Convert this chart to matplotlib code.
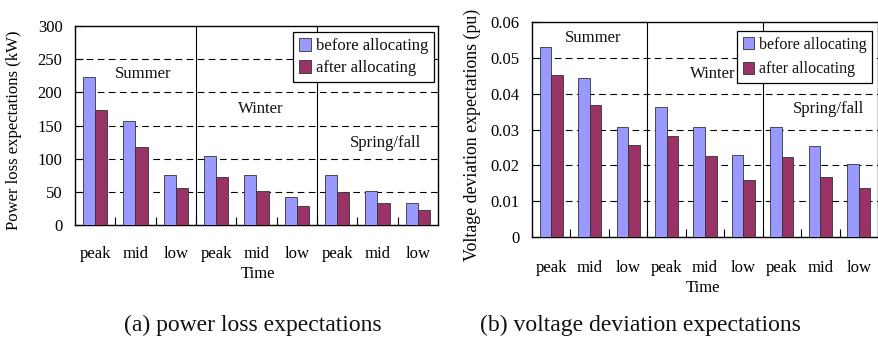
import numpy as np
import matplotlib.pyplot as plt

plt.rcParams["font.family"] = ["Liberation Serif", "DejaVu Serif"]
plt.rcParams["text.color"] = "#111111"

# categories: three load levels within each season
periods = ["peak", "mid", "low"] * 3
seasons = ["Summer", "Winter", "Spring/fall"]

# power loss expectations (kW)
loss_before = [223, 157, 76, 104, 76, 42, 76, 51, 33]
loss_after = [173, 118, 56, 73, 51, 29, 50, 33, 22]

# voltage deviation expectations (pu)
volt_before = [0.0529, 0.0445, 0.0307, 0.0362, 0.0307, 0.0228, 0.0307, 0.0254, 0.0203]
volt_after = [0.0452, 0.0368, 0.0256, 0.0281, 0.0225, 0.0158, 0.0222, 0.0168, 0.0137]

c_before = "#9999FF"
c_after = "#993366"


def draw_panel(ax, before, after, ymax, ystep, ylabel, ylab_size, season_pos,
               legend_anchor, leg_size, leg_space, tick_pad, ylab_xy, time_xy):
    x = np.arange(len(periods))
    w = 0.3
    ax.bar(x - w / 2, before, w, color=c_before, edgecolor="#333333",
           linewidth=0.6, label="before allocating", zorder=3)
    ax.bar(x + w / 2, after, w, color=c_after, edgecolor="#333333",
           linewidth=0.6, label="after allocating", zorder=3)

    ax.set_xlim(-0.5, len(periods) - 0.5)
    ax.set_ylim(0, ymax)
    yt = np.arange(0, ymax + ystep / 2, ystep)
    ax.set_yticks(yt)
    ax.set_yticklabels(["0"] + [f"{v:g}" for v in yt[1:]])
    for v in yt[1:-1]:
        ax.axhline(v, color="black", lw=0.8, ls=(0, (6, 4)), zorder=1)
    for b in (2.5, 5.5):
        ax.axvline(b, color="black", lw=0.8, zorder=2)

    ax.set_xticks(x)
    ax.set_xticklabels(periods)
    ax.set_xticks(np.arange(0.5, len(periods) - 1, 1), minor=True)
    ax.tick_params(axis="x", which="major", length=0, pad=tick_pad, labelsize=12)
    ax.tick_params(axis="x", which="minor", direction="in", length=6, width=0.8)
    ax.tick_params(axis="y", direction="in", length=6, width=0.8, pad=9, labelsize=12)
    for s in ax.spines.values():
        s.set_linewidth(1.0)

    ax.set_ylabel(ylabel, fontsize=ylab_size)
    ax.yaxis.set_label_coords(*ylab_xy)
    ax.set_xlabel("Time", fontsize=12)
    ax.xaxis.set_label_coords(*time_xy)

    for name, (sx, sy) in zip(seasons, season_pos):
        ax.text(sx, sy, name, ha="center", va="center", fontsize=12)

    leg = ax.legend(loc="upper right", bbox_to_anchor=legend_anchor, fontsize=leg_size,
                    fancybox=False, framealpha=1, edgecolor="black",
                    handlelength=0.7, handleheight=0.8, handletextpad=0.3,
                    borderpad=0.35, labelspacing=leg_space, borderaxespad=0)
    leg.get_frame().set_linewidth(0.9)


fig = plt.figure(figsize=(8.79, 3.4), dpi=100)
W, H = 879, 340

ax1 = fig.add_axes([75 / W, (H - 225) / H, 363 / W, 199 / H])
draw_panel(ax1, loss_before, loss_after, 300, 50,
           "Power loss expectations (kW)", 12,
           [(1.2, 228), (4.1, 175), (7.2, 123)],
           (0.989, 0.97), 12, 0.35, 15, (-0.146, 0.477), (0.504, -0.206))

ax2 = fig.add_axes([532 / W, (H - 237) / H, 346 / W, 215 / H])
draw_panel(ax2, volt_before, volt_after, 0.06, 0.01,
           "Voltage deviation expectations (pu)", 12.8,
           [(1.1, 0.0554), (4.2, 0.0455), (7.2, 0.0358)],
           (0.983, 0.958), 11.5, 0.55, 16.5, (-0.147, 0.474), (0.494, -0.2))

fig.text(253 / W, 1 - 325 / H, "(a) power loss expectations",
         ha="center", va="center", fontsize=17)
fig.text(640 / W, 1 - 325 / H, "(b) voltage deviation expectations",
         ha="center", va="center", fontsize=17)

fig.savefig("out.png", dpi=100)
